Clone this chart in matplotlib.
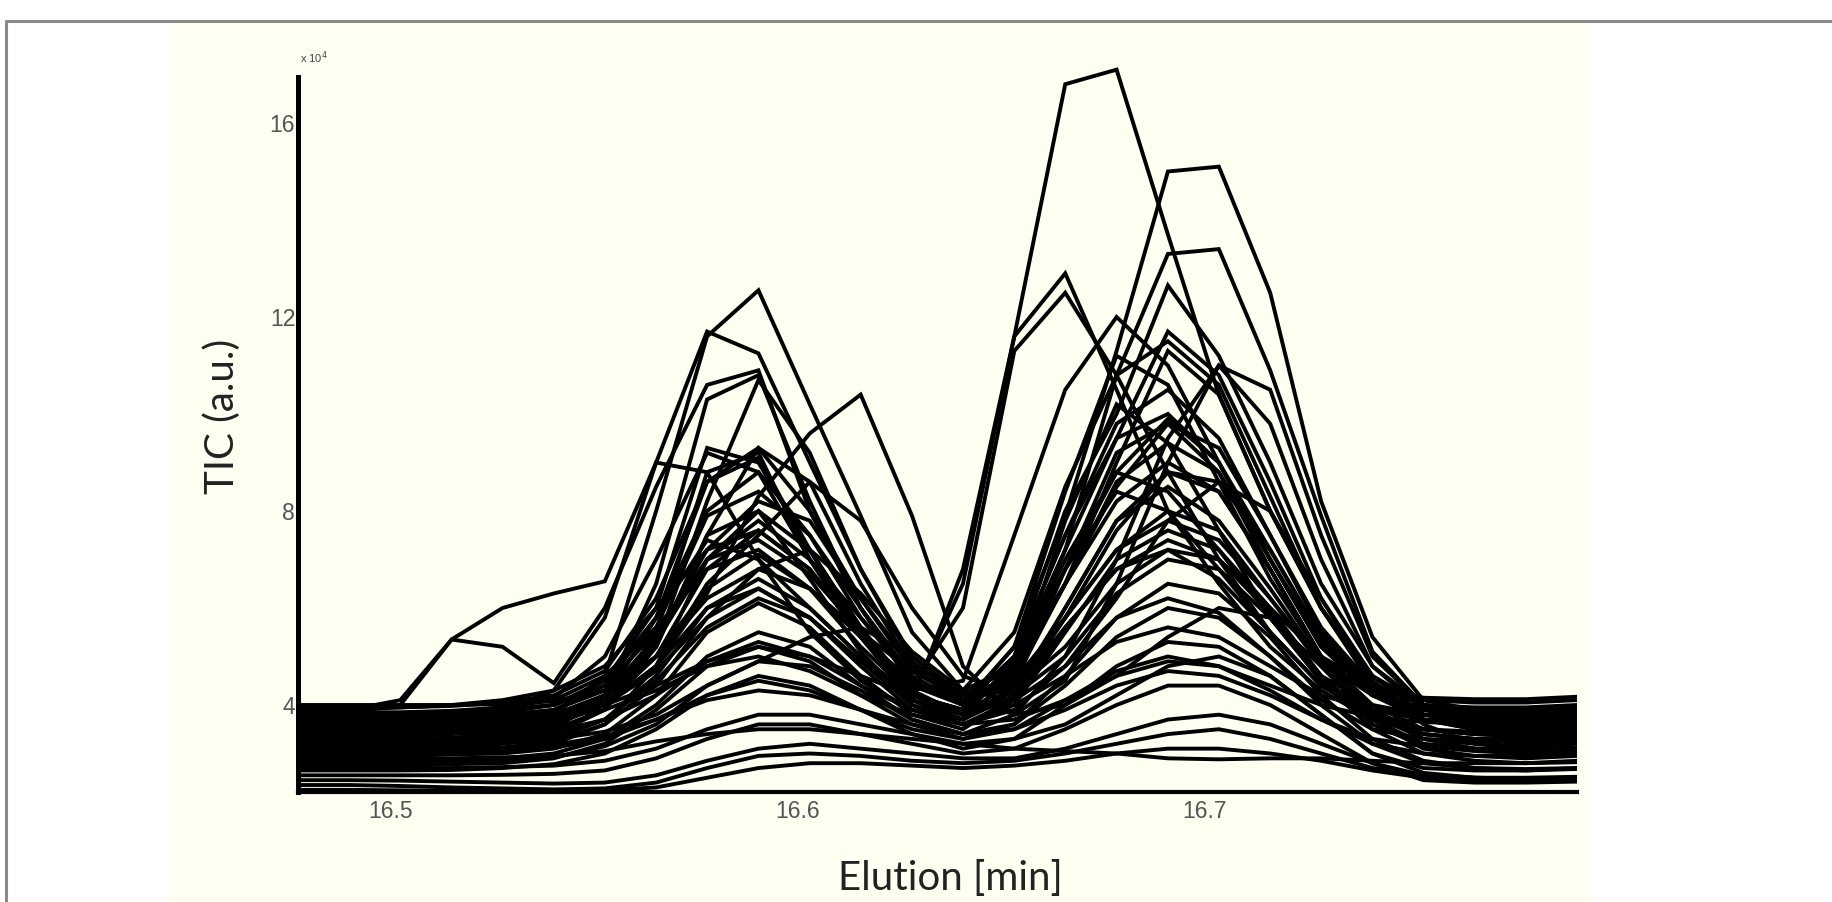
import matplotlib
matplotlib.use('Agg')
import matplotlib.pyplot as plt
from matplotlib.patches import Rectangle
from matplotlib.lines import Line2D

# elution time of every scan [min]
elution = [16.4774, 16.4900, 16.5025, 16.5151, 16.5276, 16.5402, 16.5527, 16.5653,
           16.5778, 16.5904, 16.6030, 16.6155, 16.6281, 16.6406, 16.6532, 16.6657,
           16.6783, 16.6909, 16.7034, 16.7160, 16.7285, 16.7411, 16.7536, 16.7662,
           16.7787, 16.7913]

# TIC traces (x 10^4), one list per sample
tic = [
    [3.90, 3.90, 3.95, 4.00, 4.10, 4.30, 4.80, 6.00, 7.20, 7.60, 6.80, 5.50, 4.10, 6.80, 11.6, 16.8, 17.1, 13.7, 10.4, 8.00, 6.00, 4.60, 4.00, 3.90, 3.90, 3.95],
    [3.70, 3.70, 3.70, 3.75, 3.80, 3.90, 4.30, 5.60, 7.90, 8.40, 7.50, 6.00, 4.60, 4.00, 5.20, 7.90, 11.3, 15.0, 15.1, 12.5, 8.20, 5.40, 4.10, 3.90, 3.85, 3.90],
    [3.60, 3.60, 3.60, 3.65, 3.70, 3.80, 4.20, 5.30, 7.00, 7.40, 6.70, 5.50, 4.30, 3.80, 4.90, 7.20, 10.8, 13.3, 13.4, 10.9, 7.90, 5.10, 4.00, 3.80, 3.75, 3.80],
    [3.40, 3.40, 3.45, 3.50, 3.60, 3.80, 4.60, 8.00, 11.6, 12.55, 10.2, 7.90, 5.50, 4.30, 5.50, 8.50, 10.8, 11.5, 10.6, 8.30, 6.00, 4.50, 3.70, 3.50, 3.45, 3.50],
    [3.90, 3.90, 4.10, 5.35, 6.00, 6.30, 6.55, 9.00, 11.7, 11.25, 9.00, 6.80, 5.00, 4.20, 4.80, 6.50, 8.60, 9.40, 8.80, 7.00, 5.20, 4.30, 3.90, 3.80, 3.80, 3.85],
    [3.85, 3.85, 4.00, 5.35, 5.20, 4.45, 6.00, 8.50, 10.6, 10.9, 8.00, 6.00, 4.50, 4.00, 5.00, 7.50, 9.50, 10.0, 9.00, 7.00, 5.20, 4.20, 3.80, 3.70, 3.70, 3.75],
    [3.50, 3.50, 3.50, 3.55, 3.60, 3.70, 4.00, 4.80, 6.30, 8.30, 9.60, 10.4, 7.90, 4.80, 3.80, 4.50, 6.50, 9.00, 11.0, 10.5, 7.50, 5.00, 4.00, 3.70, 3.60, 3.65],
    [3.20, 3.20, 3.20, 3.25, 3.30, 3.40, 3.90, 5.50, 8.80, 9.20, 7.00, 5.50, 4.20, 6.50, 11.6, 12.9, 10.5, 8.00, 6.50, 5.20, 4.30, 3.70, 3.40, 3.30, 3.20, 3.25],
    [3.30, 3.30, 3.30, 3.30, 3.35, 3.50, 4.20, 6.50, 10.3, 10.8, 8.20, 6.00, 4.40, 6.00, 11.3, 12.5, 10.8, 8.80, 7.00, 5.50, 4.40, 3.80, 3.50, 3.40, 3.35, 3.40],
    [3.75, 3.75, 3.75, 3.80, 3.90, 4.00, 4.50, 6.00, 9.30, 9.00, 7.20, 5.60, 4.30, 4.50, 7.50, 10.5, 12.0, 11.0, 9.00, 7.00, 5.30, 4.30, 3.90, 3.80, 3.80, 3.85],
    [3.60, 3.60, 3.60, 3.60, 3.70, 3.80, 4.20, 5.20, 7.50, 9.30, 8.60, 6.50, 4.80, 4.00, 5.00, 8.00, 10.0, 12.65, 11.2, 9.00, 6.50, 4.80, 4.00, 3.80, 3.70, 3.75],
    [3.00, 3.00, 3.00, 3.05, 3.10, 3.20, 3.60, 4.80, 7.00, 8.00, 7.20, 5.60, 4.20, 3.80, 4.80, 7.20, 9.50, 11.7, 10.8, 8.60, 6.20, 4.50, 3.60, 3.20, 3.10, 3.10],
    [3.45, 3.45, 3.45, 3.50, 3.55, 3.70, 4.10, 5.20, 8.20, 10.7, 9.20, 6.80, 4.90, 4.10, 4.60, 6.50, 9.00, 11.3, 10.4, 8.00, 6.00, 4.40, 3.70, 3.50, 3.45, 3.50],
    [3.55, 3.55, 3.55, 3.60, 3.65, 3.75, 4.00, 4.80, 6.50, 7.50, 8.60, 7.80, 6.00, 4.60, 4.20, 5.00, 7.00, 9.50, 11.0, 9.80, 7.00, 4.80, 3.90, 3.70, 3.60, 3.65],
    [3.80, 3.80, 3.80, 3.82, 3.90, 4.00, 4.40, 5.50, 7.00, 7.80, 7.00, 5.80, 4.60, 4.00, 4.60, 6.50, 8.50, 9.80, 9.30, 7.50, 5.60, 4.40, 4.00, 3.95, 3.95, 4.00],
    [3.10, 3.10, 3.10, 3.12, 3.20, 3.30, 3.70, 4.60, 6.00, 6.60, 6.00, 5.00, 4.10, 3.70, 4.20, 6.00, 7.80, 8.80, 8.40, 6.80, 5.00, 3.90, 3.30, 3.10, 3.05, 3.10],
    [3.65, 3.65, 3.65, 3.70, 3.75, 3.90, 4.40, 5.80, 8.00, 8.80, 7.50, 5.80, 4.50, 4.00, 5.00, 7.50, 9.80, 10.5, 9.50, 7.50, 5.50, 4.30, 3.80, 3.70, 3.65, 3.70],
    [2.95, 2.95, 2.95, 2.98, 3.00, 3.10, 3.40, 4.20, 5.50, 6.10, 5.60, 4.60, 3.80, 3.50, 4.20, 5.80, 7.20, 8.00, 7.60, 6.20, 4.80, 3.70, 3.10, 2.95, 2.90, 2.95],
    [3.35, 3.35, 3.35, 3.40, 3.45, 3.60, 4.00, 5.00, 6.80, 7.60, 6.80, 5.40, 4.20, 3.80, 4.50, 6.50, 8.20, 9.00, 8.40, 6.80, 5.00, 4.00, 3.50, 3.40, 3.35, 3.40],
    [3.25, 3.25, 3.25, 3.28, 3.35, 3.50, 3.90, 5.20, 7.50, 8.00, 6.60, 5.10, 4.00, 3.70, 4.30, 6.00, 7.80, 8.50, 7.80, 6.40, 4.90, 3.90, 3.40, 3.30, 3.25, 3.30],
    [3.70, 3.70, 3.72, 3.75, 3.85, 4.00, 4.50, 5.80, 7.40, 7.00, 6.00, 5.00, 4.20, 3.90, 4.80, 7.00, 8.80, 8.40, 7.20, 5.80, 4.60, 4.00, 3.80, 3.75, 3.75, 3.80],
    [3.50, 3.50, 3.50, 3.52, 3.60, 3.70, 4.00, 4.70, 5.80, 6.80, 7.20, 6.30, 5.10, 4.30, 4.10, 4.80, 6.20, 7.80, 8.60, 8.00, 6.20, 4.60, 3.80, 3.60, 3.55, 3.60],
    [2.85, 2.85, 2.85, 2.88, 2.90, 3.00, 3.30, 4.00, 5.00, 5.50, 5.20, 4.40, 3.70, 3.40, 3.80, 5.00, 6.30, 7.00, 6.80, 5.80, 4.50, 3.50, 3.00, 2.85, 2.80, 2.85],
    [3.95, 3.95, 3.95, 3.98, 4.05, 4.20, 4.70, 6.20, 8.60, 9.30, 8.00, 6.20, 4.80, 4.30, 4.80, 6.80, 8.80, 9.90, 9.00, 7.20, 5.40, 4.40, 4.10, 4.05, 4.05, 4.10],
    [3.15, 3.15, 3.15, 3.18, 3.25, 3.35, 3.70, 4.50, 5.60, 6.20, 5.80, 4.90, 4.00, 3.60, 4.00, 5.50, 7.00, 7.60, 7.20, 6.00, 4.60, 3.70, 3.20, 3.10, 3.05, 3.10],
    [3.40, 3.40, 3.40, 3.42, 3.50, 3.60, 4.00, 5.00, 6.40, 7.10, 6.40, 5.20, 4.20, 3.90, 4.70, 6.80, 8.40, 8.00, 6.80, 5.50, 4.40, 3.80, 3.50, 3.40, 3.40, 3.45],
    [3.55, 3.55, 3.55, 3.58, 3.62, 3.75, 4.20, 5.40, 7.20, 8.20, 7.80, 6.20, 4.70, 4.10, 4.40, 5.80, 7.60, 8.80, 8.60, 7.20, 5.40, 4.20, 3.70, 3.55, 3.50, 3.55],
    [3.05, 3.05, 3.05, 3.08, 3.12, 3.25, 3.60, 4.40, 5.80, 6.40, 5.80, 4.80, 3.90, 3.60, 4.10, 5.60, 6.80, 7.40, 7.00, 5.90, 4.60, 3.60, 3.15, 3.05, 3.00, 3.05],
    [3.85, 3.85, 3.85, 3.88, 3.95, 4.10, 4.60, 5.60, 6.80, 7.20, 6.40, 5.40, 4.50, 4.10, 4.50, 5.80, 7.20, 7.80, 7.40, 6.20, 4.90, 4.20, 3.95, 3.90, 3.90, 3.95],
    [2.75, 2.75, 2.75, 2.78, 2.80, 2.90, 3.20, 3.90, 4.80, 5.20, 4.90, 4.20, 3.60, 3.30, 3.60, 4.60, 5.80, 6.50, 6.30, 5.40, 4.20, 3.30, 2.85, 2.70, 2.65, 2.70],
    [3.30, 3.30, 3.30, 3.32, 3.38, 3.45, 3.70, 4.20, 4.90, 5.30, 5.00, 4.40, 3.90, 3.60, 3.90, 4.80, 5.80, 6.20, 5.90, 5.00, 4.10, 3.50, 3.30, 3.25, 3.25, 3.30],
    [2.65, 2.65, 2.65, 2.66, 2.70, 2.78, 3.00, 3.50, 4.20, 4.60, 4.40, 3.90, 3.40, 3.10, 3.30, 4.00, 4.80, 5.30, 5.20, 4.60, 3.80, 3.00, 2.60, 2.50, 2.48, 2.50],
    [3.00, 3.00, 3.00, 3.02, 3.05, 3.12, 3.30, 3.70, 4.20, 4.50, 4.30, 3.90, 3.50, 3.30, 3.50, 4.10, 4.70, 5.00, 4.80, 4.30, 3.70, 3.20, 3.00, 2.95, 2.95, 3.00],
    [2.55, 2.55, 2.55, 2.55, 2.56, 2.58, 2.65, 2.90, 3.30, 3.60, 3.60, 3.40, 3.20, 3.00, 3.10, 3.50, 4.00, 4.40, 4.40, 4.00, 3.40, 2.80, 2.45, 2.40, 2.40, 2.42],
    [3.75, 3.75, 3.75, 3.76, 3.80, 3.85, 4.00, 4.40, 4.90, 5.20, 5.00, 4.60, 4.20, 3.90, 4.00, 4.60, 5.30, 5.60, 5.40, 4.80, 4.20, 3.90, 3.80, 3.80, 3.80, 3.82],
    [2.45, 2.45, 2.44, 2.42, 2.40, 2.38, 2.40, 2.55, 2.85, 3.10, 3.20, 3.10, 3.00, 2.90, 2.90, 3.10, 3.40, 3.70, 3.80, 3.60, 3.20, 2.80, 2.55, 2.50, 2.48, 2.50],
    [2.35, 2.35, 2.33, 2.30, 2.28, 2.26, 2.28, 2.40, 2.70, 2.95, 3.00, 2.95, 2.85, 2.80, 2.85, 3.00, 3.20, 3.40, 3.50, 3.30, 3.00, 2.70, 2.55, 2.50, 2.50, 2.52],
    [2.25, 2.25, 2.24, 2.23, 2.22, 2.22, 2.24, 2.30, 2.50, 2.70, 2.80, 2.80, 2.75, 2.70, 2.75, 2.85, 3.00, 3.10, 3.10, 3.00, 2.85, 2.65, 2.50, 2.45, 2.45, 2.45],
    [3.20, 3.20, 3.20, 3.22, 3.25, 3.30, 3.45, 3.80, 4.40, 4.90, 5.40, 5.60, 5.00, 4.20, 3.80, 4.00, 4.60, 5.40, 6.00, 5.80, 4.80, 3.80, 3.30, 3.20, 3.15, 3.20],
    [2.90, 2.90, 2.90, 2.90, 2.92, 2.95, 3.05, 3.25, 3.40, 3.50, 3.50, 3.40, 3.30, 3.20, 3.10, 3.05, 3.00, 2.90, 2.88, 2.90, 2.90, 2.85, 2.80, 2.80, 2.80, 2.82],
    [3.60, 3.60, 3.60, 3.62, 3.66, 3.72, 3.90, 4.30, 4.80, 5.00, 4.70, 4.20, 3.80, 3.60, 3.70, 4.10, 4.60, 4.90, 4.80, 4.40, 4.00, 3.75, 3.65, 3.60, 3.60, 3.62],
    [2.70, 2.70, 2.70, 2.70, 2.72, 2.75, 2.85, 3.10, 3.50, 3.80, 3.80, 3.60, 3.40, 3.20, 3.30, 3.60, 4.20, 4.80, 5.00, 4.60, 3.80, 3.00, 2.70, 2.65, 2.65, 2.68],
    [4.00, 4.00, 4.00, 4.00, 4.02, 4.08, 4.30, 5.00, 6.20, 6.80, 6.40, 5.50, 4.70, 4.20, 4.30, 5.20, 6.50, 7.20, 7.00, 6.00, 5.00, 4.40, 4.15, 4.12, 4.12, 4.17],
    [3.45, 3.45, 3.45, 3.48, 3.55, 3.65, 4.00, 4.80, 6.00, 6.40, 5.80, 4.90, 4.10, 3.80, 4.30, 5.60, 6.80, 7.20, 6.60, 5.50, 4.40, 3.80, 3.50, 3.45, 3.45, 3.50],
    [3.10, 3.10, 3.10, 3.10, 3.12, 3.18, 3.35, 3.70, 4.10, 4.30, 4.20, 3.90, 3.60, 3.40, 3.50, 3.90, 4.40, 4.70, 4.60, 4.20, 3.70, 3.30, 3.15, 3.10, 3.10, 3.12],
    [3.80, 3.80, 3.82, 3.85, 3.95, 4.15, 5.00, 7.00, 9.20, 8.80, 7.00, 5.40, 4.40, 4.00, 5.20, 8.40, 11.2, 10.6, 8.60, 6.60, 5.00, 4.20, 3.90, 3.85, 3.85, 3.90],
    [3.30, 3.30, 3.30, 3.32, 3.40, 3.55, 4.10, 5.80, 8.60, 9.10, 7.20, 5.40, 4.10, 3.70, 4.40, 6.80, 9.20, 9.80, 8.80, 6.80, 5.00, 3.90, 3.40, 3.30, 3.30, 3.35],
    [2.80, 2.80, 2.80, 2.82, 2.85, 2.92, 3.15, 3.60, 4.40, 4.90, 4.80, 4.30, 3.70, 3.40, 3.60, 4.40, 5.40, 6.00, 5.80, 5.00, 4.00, 3.20, 2.80, 2.70, 2.68, 2.70],
    [3.65, 3.65, 3.68, 3.75, 3.90, 4.30, 5.80, 9.00, 8.80, 7.00, 5.50, 4.50, 3.90, 3.70, 4.60, 7.80, 10.2, 9.40, 7.60, 5.80, 4.50, 3.90, 3.70, 3.65, 3.65, 3.70],
]

x_ticks = [16.5, 16.6, 16.7]
y_ticks = [4, 8, 12, 16]

W, H = 1832, 902
cream = '#fefef1'

fig = plt.figure(figsize=(W / 100, H / 100), dpi=100)
fig.patch.set_facecolor('white')

# cream panel and the grey frame around the whole picture
fig.add_artist(Rectangle((170 / W, 0), (1590 - 170) / W, (H - 22) / H,
                         transform=fig.transFigure, facecolor=cream, edgecolor='none', zorder=0))
fig.add_artist(Line2D([6 / W, 6 / W, 1], [0, 1 - 21 / H, 1 - 21 / H],
                      transform=fig.transFigure, color='#8a8a8a', lw=2.2, zorder=1))

# axes: left spine at x=298px, bottom at y=792px
y0, y1 = 2.206, 17.3
px_per_unit = 48.5
top_px = 705 - (y1 - 4) * px_per_unit
ax = fig.add_axes([298 / W, (H - 792) / H, (1577 - 298) / W, (792 - top_px) / H])
ax.set_facecolor(cream)

for trace in tic:
    ax.plot(elution, trace, color='black', lw=2.8, solid_joinstyle='miter')

ax.set_xlim(elution[0], elution[-1])
ax.set_ylim(y0, y1)

for s in ['top', 'right']:
    ax.spines[s].set_visible(False)
ax.spines['left'].set_linewidth(3.6)
ax.spines['bottom'].set_linewidth(3.0)
ax.spines['left'].set_bounds(y0, 16.95)
ax.spines['left'].set_zorder(5)
ax.spines['bottom'].set_zorder(5)

ax.set_xticks(x_ticks)
ax.set_xticklabels(['16.5', '16.6', '16.7'])
ax.set_yticks(y_ticks)
ax.set_yticklabels(['4', '8', '12', '16'])
ax.tick_params(length=0, labelsize=16.5, labelcolor='#555555', pad=6)
ax.tick_params(axis='y', pad=2)
for lab in ax.get_xticklabels() + ax.get_yticklabels():
    lab.set_family('Liberation Sans')

ax.text(300 / W, 1 - 58 / H, 'x 10$^{4}$', transform=fig.transFigure, fontsize=8,
        color='#444444', family='Liberation Sans', va='center', ha='left')

fig.text(950 / W, 1 - 878 / H, 'Elution [min]', fontsize=29, family='Lato',
         color='#222222', ha='center', va='center')
fig.text(222 / W, 1 - 416 / H, 'TIC (a.u.)', fontsize=29, family='Lato',
         color='#222222', ha='center', va='center', rotation=90)

fig.savefig('out.png', dpi=100, facecolor=fig.get_facecolor())
